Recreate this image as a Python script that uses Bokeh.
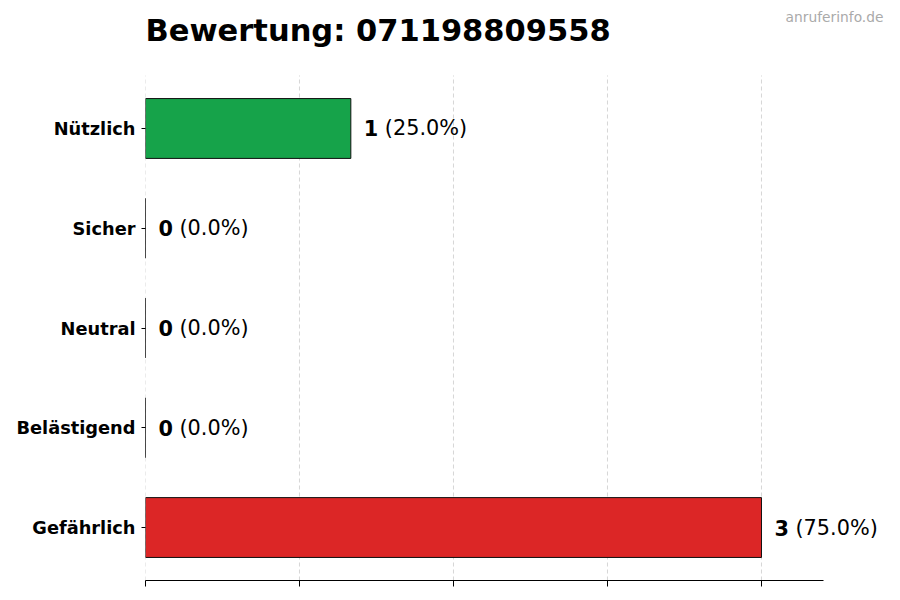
from bokeh.plotting import figure
from bokeh.models import ColumnDataSource, Range1d, FixedTicker, LabelSet, Label
from bokeh.core.properties import value
from bokeh.embed import file_html
from bokeh.resources import INLINE

# ---- data ----
categories = ["Gefährlich", "Belästigend", "Neutral", "Sicher", "Nützlich"]
positions = [0, 1, 2, 3, 4]
counts = [3, 0, 0, 0, 1]
colors = ["#dc2626", "#dc2626", "#dc2626", "#dc2626", "#16a34a"]
x_ticks = [0, 0.75, 1.5, 2.25, 3.0]
title_text = "Bewertung: 071198809558"
watermark_text = "anruferinfo.de"

total = sum(counts)
count_labels = [str(c) for c in counts]
pct_labels = ["(%.1f%%)" % (100.0 * c / total) for c in counts]

source = ColumnDataSource(dict(pos=positions, val=counts, col=colors,
                               num=count_labels, pct=pct_labels))

FONT = "DejaVu Sans"

# ---- layout (pixels) ----
W, H = 900, 600
LEFT, BOTTOM = 145, 20
PX_PER_X = 205.33          # pixels per count unit
PX_PER_Y = 99.76           # pixels per category step
AXIS_END = 3.3             # end of the drawn x axis
FRAME_W = W - LEFT
FRAME_H = H - BOTTOM
y_start = -0.531
y_end = y_start + FRAME_H / PX_PER_Y
x_end = FRAME_W / PX_PER_X
grid_top = 4.531


def y_at(px_from_top):
    return y_end - px_from_top / PX_PER_Y


def x_at(px_from_left):
    return (px_from_left - LEFT) / PX_PER_X


p = figure(width=W, height=H, output_backend="svg", toolbar_location=None,
           x_range=Range1d(0, x_end), y_range=Range1d(y_start, y_end),
           min_border_left=LEFT, min_border_right=0,
           min_border_top=0, min_border_bottom=BOTTOM)
p.outline_line_color = None
p.background_fill_color = "white"
p.border_fill_color = "white"
p.xgrid.visible = False
p.ygrid.visible = False

# dashed vertical grid lines (only over the bar area)
p.segment(x0=x_ticks, x1=x_ticks, y0=y_start, y1=grid_top,
          line_color="#cccccc", line_dash="4 3", line_width=1, line_alpha=0.8)

p.hbar(y="pos", right="val", left=0, height=0.6, source=source,
       fill_color="col", line_color="#111111", line_width=1)

# x axis
p.xaxis.ticker = FixedTicker(ticks=x_ticks)
p.xaxis.bounds = (0, AXIS_END)
p.xaxis.major_label_overrides = {t: "" for t in x_ticks}
p.xaxis.major_label_text_font_size = "8px"
p.xaxis.major_label_standoff = 0
p.xaxis.axis_line_color = "black"
p.xaxis.major_tick_line_color = "black"
p.xaxis.major_tick_out = 6
p.xaxis.major_tick_in = 0
p.xaxis.minor_tick_line_color = None

# y axis
p.yaxis.ticker = FixedTicker(ticks=positions)
p.yaxis.major_label_overrides = {pos: cat for pos, cat in zip(positions, categories)}
p.yaxis.axis_line_color = None
p.yaxis.major_tick_out = 4
p.yaxis.major_tick_in = 0
p.yaxis.major_tick_line_color = "black"
p.yaxis.minor_tick_line_color = None
p.yaxis.major_label_standoff = 6
p.yaxis.major_label_text_font = FONT
p.yaxis.major_label_text_font_style = "bold"
p.yaxis.major_label_text_font_size = "17.8px"
p.yaxis.major_label_text_color = "black"

# value labels
num_labels = LabelSet(x="val", y="pos", text="num", source=source,
                      x_offset=13, text_baseline="middle", text_align="left",
                      text_font=value(FONT), text_font_style="bold",
                      text_font_size="20.8px", text_color="black")
pct_lbls = LabelSet(x="val", y="pos", text="pct", source=source,
                    x_offset=34, text_baseline="middle", text_align="left",
                    text_font=value(FONT), text_font_size="20.8px", text_color="black")
p.add_layout(num_labels)
p.add_layout(pct_lbls)

# title and watermark
title = Label(x=0, y=y_at(30), text=title_text, text_font=FONT,
              text_font_style="bold", text_font_size="30.5px", text_color="black",
              text_align="left", text_baseline="alphabetic")
p.add_layout(title)
wm = Label(x=x_at(883), y=y_at(16), text=watermark_text, text_font=FONT,
           text_font_size="13.8px", text_color="#aaaaaa",
           text_align="right", text_baseline="middle")
p.add_layout(wm)

open("out.html", "w").write(file_html(p, INLINE))
